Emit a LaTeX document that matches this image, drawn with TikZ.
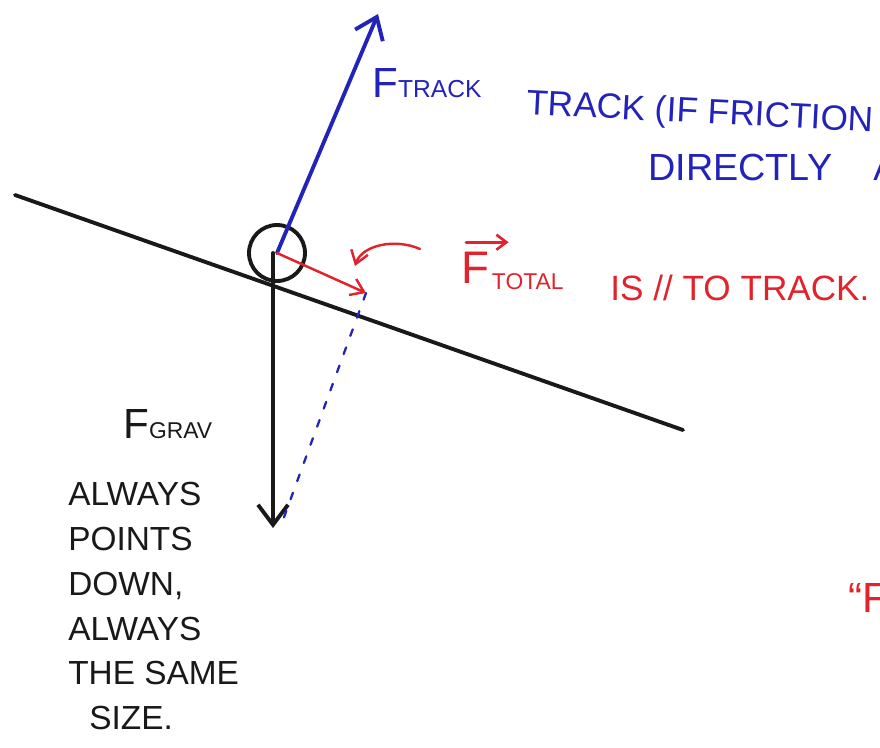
\documentclass[tikz,border=0pt]{standalone}
\usepackage{fontspec}
\setmainfont{Liberation Sans}
\usetikzlibrary{calc, arrows.meta}

\definecolor{penblue}{RGB}{35,35,185}
\definecolor{penred}{RGB}{225,35,45}
\definecolor{penblack}{RGB}{25,25,25}

\newcommand{\bigF}[1]{{\fontsize{#1}{#1}\selectfont F}}
\newcommand{\subtxt}[1]{{\fontsize{13}{13}\selectfont #1}}

\begin{document}
\begin{tikzpicture}[x=0.02cm, y=-0.02cm, line cap=round, line join=round,
  pen/.style={line width=2.2pt},
  vec/.style={pen, -{Straight Barb[length=4mm, width=6mm, line width=2.2pt]}},
  thinvec/.style={line width=1.4pt, -{Straight Barb[length=2.5mm, width=3.5mm, line width=1.4pt]}},
  hand/.style={font=\fontsize{20}{25.5}\selectfont, inner sep=0pt}]
  \useasboundingbox (0,0) rectangle (880,748);
  \clip (0,0) rectangle (880,748);
  \fill[white] (0,0) rectangle (880,748);

  \coordinate (trackL) at (15,195);
  \coordinate (trackR) at (683,430);
  \coordinate (tracktip) at (378,14);
  \coordinate (gravtip) at (273,528);
  \coordinate (totaltip) at (366,293);
  \coordinate (curvestart) at (420,249);

  % track and ball
  \draw[pen, penblack] (trackL) -- (trackR);
  \node[draw=penblack, pen, circle, minimum size=1.12cm] (ball) at (277,253) {};

  % forces
  \draw[vec, penblue] (ball.center) -- (tracktip);
  \draw[vec, penblack] (ball.center -| gravtip) -- (gravtip);
  \draw[penblue, line width=1.3pt, dash pattern=on 4pt off 7pt] (totaltip) -- ($(gravtip)+(10,-8)$);
  \draw[thinvec, penred] (ball.center) -- (totaltip);
  \draw[thinvec, penred] (curvestart) .. controls (395,238) and (362,245) .. (355,266);

  % labels
  \node[hand, penblue, anchor=base west] (ftrack) at (372,97) {\bigF{24}{\fontsize{14}{14}\selectfont TRACK}};
  \node[hand, penblue, anchor=base west, rotate=-3] (trackinfo) at (526,114) {TRACK (IF FRICTION};
  \node[hand, penblue, anchor=base west, font=\fontsize{21.5}{25}\selectfont] (directly) at (648,180) {DIRECTLY};
  \node[hand, penblue, anchor=base west] (along) at (873,180) {A};

  \node[hand, penred, anchor=base west] (ftotal) at (461,283) {\bigF{26}};
  \draw[penred, line width=1.5pt, -{Straight Barb[length=2mm, width=3mm, line width=1.5pt]}]
    ($(ftotal.north west)+(5,-9)$) -- ($(ftotal.north east)+(19,-9)$);
  \node[hand, penred, anchor=base west] (ftotalsub) at ($(ftotal.base east)+(2,6)$) {\subtxt{TOTAL}};
  \node[hand, penred, anchor=base west] (parallel) at (610,300) {IS // TO TRACK.};

  \node[hand, penblack, anchor=base west] (fgrav) at (123,438) {\bigF{24}\subtxt{GRAV}};
  \node[hand, penblack, anchor=north west, align=left, font=\fontsize{19}{25.5}\selectfont] (gravnote) at (68,482)
    {ALWAYS\\POINTS\\DOWN,\\ALWAYS\\THE SAME\\\hspace{12pt}SIZE.};

  \node[hand, penred, anchor=base west] (quote) at (848,612) {\fontsize{24}{24}\selectfont ``F};
\end{tikzpicture}
\end{document}
